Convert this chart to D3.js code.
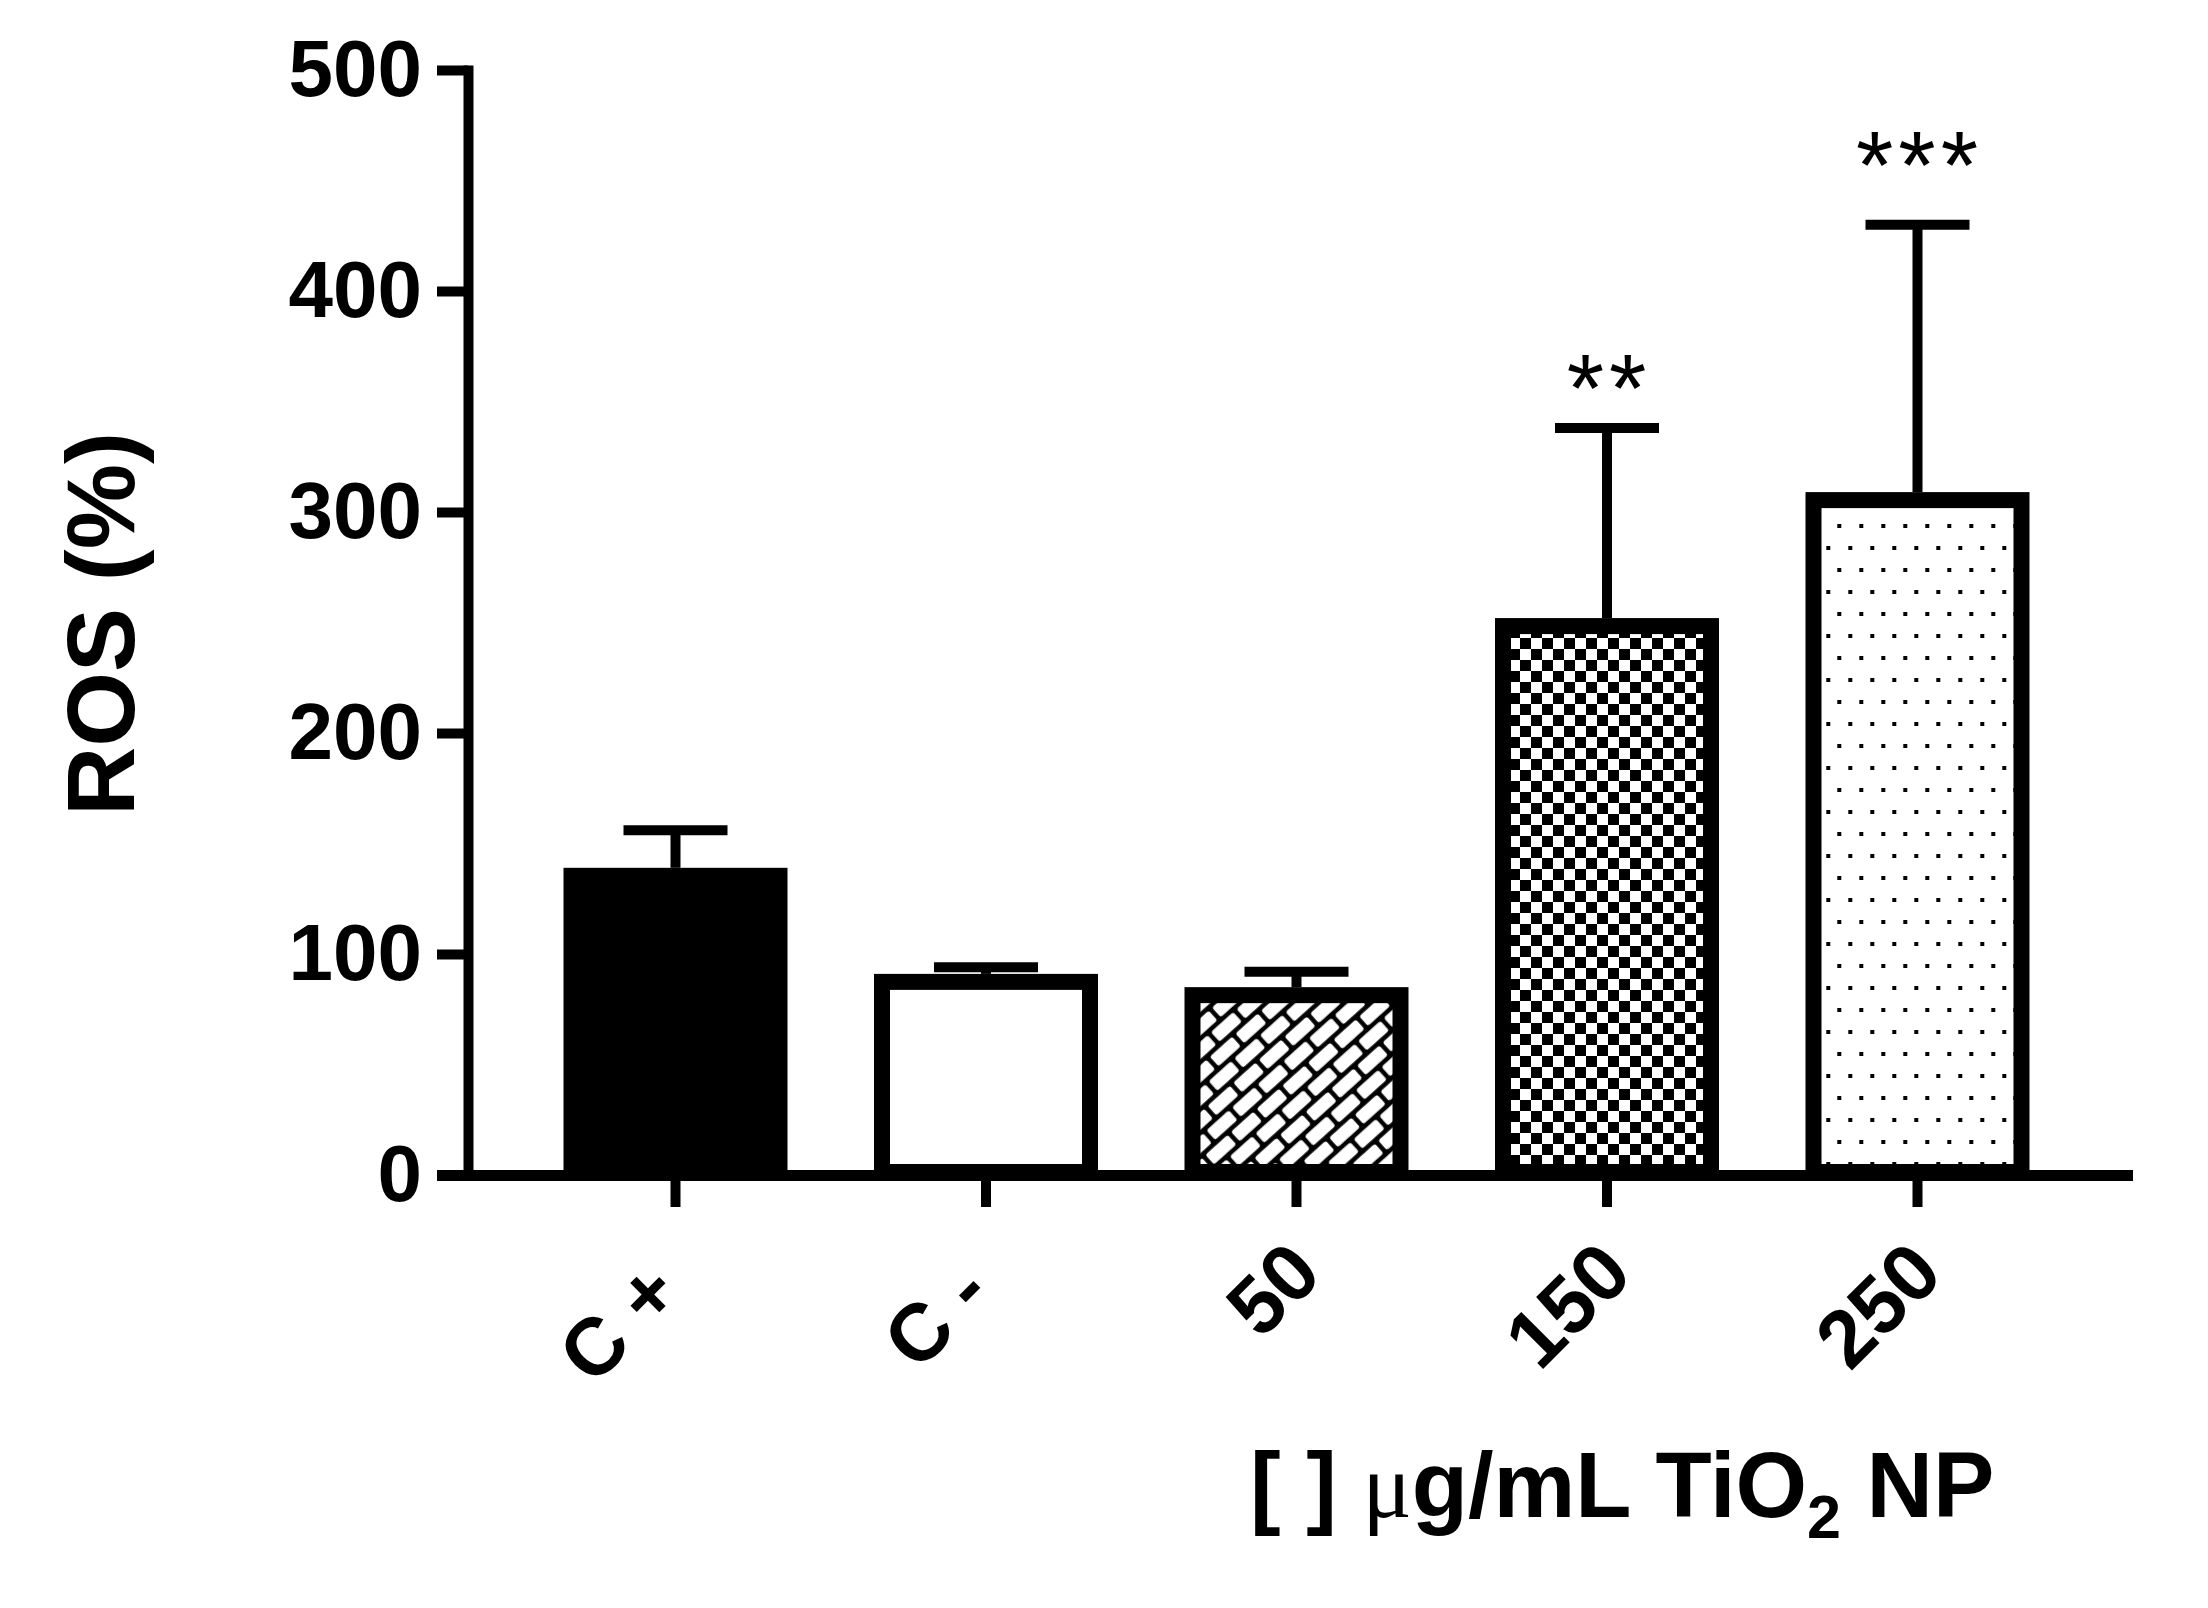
<!DOCTYPE html>
<html>
<head>
<meta charset="utf-8">
<script src="https://cdn.jsdelivr.net/npm/d3@7/dist/d3.min.js"></script>
<style>
  html, body { margin: 0; padding: 0; background: #ffffff; }
  svg { display: block; }
</style>
</head>
<body>
<script>
// ---- data ----
const categories = ["C +", "C -", "50", "150", "250"];
const means      = [139, 91, 85, 252, 309];
const sdUpper    = [17, 3, 7, 86, 121];
const yTicks     = [0, 100, 200, 300, 400, 500];
const fillKinds  = ["solid", "empty", "brick", "checker", "dots"];
const annotations = [
  { cat: "150", text: "**",  value: 341 },
  { cat: "250", text: "***", value: 442 }
];
const yTitle = "ROS (%)";

// ---- setup ----
const W = 2208, H = 1608;
const FONT = "'Liberation Sans', Arial, Helvetica, sans-serif";
const svg = d3.select("body").append("svg").attr("width", W).attr("height", H);
svg.append("rect").attr("width", W).attr("height", H).attr("fill", "#fff");

const defs = svg.append("defs");
// brick pattern
const BL = 30, BH = 13, MO = 4.5;
const PW = BL + MO, PH = 2 * (BH + MO);
const brick = defs.append("pattern").attr("id", "brick")
  .attr("patternUnits", "userSpaceOnUse").attr("width", PW).attr("height", PH)
  .attr("patternTransform", "rotate(-42)");
brick.append("rect").attr("width", PW).attr("height", PH).attr("fill", "#000");
[[MO / 2, MO / 2], [MO / 2 - PW / 2, MO / 2 + BH + MO], [MO / 2 + PW / 2, MO / 2 + BH + MO]].forEach(([bx, by]) =>
  brick.append("rect").attr("x", bx).attr("y", by).attr("width", BL).attr("height", BH)
    .attr("rx", 2.5).attr("fill", "#fff"));
// checker pattern
const checker = defs.append("pattern").attr("id", "checker")
  .attr("patternUnits", "userSpaceOnUse").attr("width", 22).attr("height", 22)
  .attr("x", 2).attr("y", 0);
checker.append("rect").attr("width", 22).attr("height", 22).attr("fill", "#fff");
checker.append("rect").attr("x", 0).attr("y", 0).attr("width", 11).attr("height", 11).attr("fill", "#000");
checker.append("rect").attr("x", 11).attr("y", 11).attr("width", 11).attr("height", 11).attr("fill", "#000");
// dots pattern
const dots = defs.append("pattern").attr("id", "dots")
  .attr("patternUnits", "userSpaceOnUse").attr("width", 22).attr("height", 44);
dots.append("rect").attr("width", 22).attr("height", 44).attr("fill", "#fff");
[[2.3, 20], [13.3, 42]].forEach(([dx, dy]) =>
  dots.append("rect").attr("x", dx - 2).attr("y", dy - 2).attr("width", 4).attr("height", 4).attr("fill", "#000"));

const fillFor = k => ({ solid: "#000", empty: "#fff", brick: "url(#brick)", checker: "url(#checker)", dots: "url(#dots)" }[k]);

// ---- scales ----
const x = d3.scaleBand().domain(categories).range([520.25, 2072.75])
  .paddingInner(0.2786).paddingOuter(0.1393);
const y = d3.scaleLinear().domain([0, 500]).range([1175, 70]);

const SW = 16;       // bar border
const EW = 10;       // error bar line width
const CAP = 104;     // cap width

const cx = d => x(d) + x.bandwidth() / 2;

// ---- error bars ----
const eg = svg.append("g");
categories.forEach((c, i) => {
  eg.append("line").attr("x1", cx(c)).attr("x2", cx(c))
    .attr("y1", y(means[i])).attr("y2", y(means[i] + sdUpper[i]))
    .attr("stroke", "#000").attr("stroke-width", EW);
  eg.append("line").attr("x1", cx(c) - CAP / 2).attr("x2", cx(c) + CAP / 2)
    .attr("y1", y(means[i] + sdUpper[i])).attr("y2", y(means[i] + sdUpper[i]))
    .attr("stroke", "#000").attr("stroke-width", EW);
});

// ---- bars ----
svg.append("g").selectAll("rect").data(categories).join("rect")
  .attr("x", d => x(d) + SW / 2)
  .attr("y", (d, i) => y(means[i]) + SW / 2)
  .attr("width", x.bandwidth() - SW)
  .attr("height", (d, i) => y(0) - 3 - (y(means[i]) + SW / 2))
  .attr("fill", (d, i) => fillFor(fillKinds[i]))
  .attr("stroke", "#000").attr("stroke-width", SW);

// ---- y axis ----
const yAxis = svg.append("g").attr("transform", "translate(468,0)")
  .call(d3.axisLeft(y).tickValues(yTicks).tickSize(31).tickSizeOuter(0).tickPadding(15));
yAxis.attr("font-family", FONT).attr("font-size", 80).attr("font-weight", "bold");
yAxis.select(".domain").attr("stroke", "#000").attr("stroke-width", 10).attr("stroke-linecap", "square");
yAxis.selectAll(".tick line").attr("stroke", "#000").attr("stroke-width", 10);
yAxis.selectAll(".tick text").attr("fill", "#000");

// ---- x axis ----
const xAxis = svg.append("g").attr("transform", "translate(0,1175)")
  .call(d3.axisBottom(x).tickSize(32).tickSizeOuter(0));
xAxis.select(".domain").remove();
xAxis.insert("line", ":first-child").attr("x1", 437).attr("x2", 2133).attr("y1", 0.5).attr("y2", 0.5)
  .attr("stroke", "#000").attr("stroke-width", 11);
xAxis.attr("font-family", FONT).attr("font-size", 81).attr("font-weight", "bold");
xAxis.selectAll(".tick line").attr("stroke", "#000").attr("stroke-width", 10);
xAxis.selectAll(".tick text")
  .attr("fill", "#000").attr("x", 0).attr("y", 0).attr("dy", 0)
  .attr("dx", d => d.startsWith("C") ? -28 : 0)
  .attr("text-anchor", "end")
  .attr("transform", "translate(28,102) rotate(-45)");

// ---- axis titles ----
svg.append("text").text(yTitle)
  .attr("transform", "translate(134,624) rotate(-90)")
  .attr("text-anchor", "middle")
  .attr("font-family", FONT).attr("font-size", 96).attr("font-weight", "bold").attr("fill", "#000");

const xt = svg.append("text").attr("x", 1250).attr("y", 1517)
  .attr("font-family", FONT).attr("font-size", 92).attr("font-weight", "bold").attr("fill", "#000");
xt.append("tspan").text("[ ] ");
xt.append("tspan").text("\u03BC").attr("font-family", "'Liberation Serif', 'Times New Roman', serif").attr("font-weight", "normal");
xt.append("tspan").text("g/mL TiO");
xt.append("tspan").text("2").attr("font-size", 61).attr("dy", 21);
xt.append("tspan").text(" NP").attr("dy", -21);

// ---- significance annotations ----
svg.append("g").selectAll("text").data(annotations).join("text")
  .attr("x", d => cx(d.cat) + 2)
  .attr("y", d => y(d.value))
  .attr("text-anchor", "middle")
  .attr("font-family", FONT).attr("font-size", 96).attr("letter-spacing", 5)
  .attr("fill", "#000")
  .text(d => d.text);
</script>
</body>
</html>
